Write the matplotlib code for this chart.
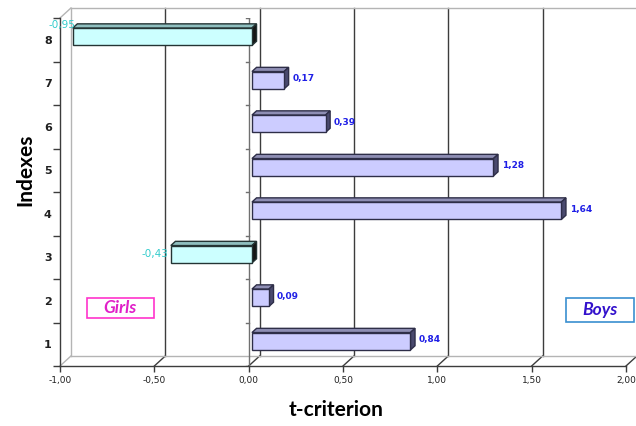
import matplotlib
matplotlib.use('Agg')
import matplotlib.pyplot as plt
from matplotlib.patches import Rectangle, Polygon

# donnees
indexes = [1, 2, 3, 4, 5, 6, 7, 8]
t_values = [0.84, 0.09, -0.43, 1.64, 1.28, 0.39, 0.17, -0.95]
x_ticks = [-1.0, -0.5, 0.0, 0.5, 1.0, 1.5, 2.0]

W, H = 636, 426
fig = plt.figure(figsize=(W / 100, H / 100), dpi=100)
ax = fig.add_axes([60 / W, (H - 366) / H, 566 / W, 348 / H])
ax.set_xlim(-1, 2)
ax.set_ylim(0.5, 8.5)

# profondeur du pseudo-3D (en unites de donnees)
DX, DY = 0.058, 0.23
d0, d1 = 0.3, 0.72   # avant / arriere des barres
bh = 0.4

grid_c = '#3c3c3c'
light_c = '#b4b4b4'

# mur du fond
for x in x_ticks[1:]:
    ax.plot([x + DX, x + DX], [0.5 + DY, 8.5 + DY], color=grid_c, lw=1, clip_on=False, zorder=1)
    ax.plot([x, x + DX], [0.5, 0.5 + DY], color=grid_c, lw=1, clip_on=False, zorder=1)
ax.plot([-1 + DX, 2 + DX], [8.5 + DY, 8.5 + DY], color=light_c, lw=1, clip_on=False, zorder=1)
ax.plot([-1 + DX, 2 + DX], [0.5 + DY, 0.5 + DY], color=light_c, lw=1, clip_on=False, zorder=1)
ax.plot([-1 + DX, -1 + DX], [0.5 + DY, 8.5 + DY], color=light_c, lw=1, clip_on=False, zorder=1)
ax.plot([-1, -1 + DX], [8.5, 8.5 + DY], color=light_c, lw=1, clip_on=False, zorder=1)
ax.plot([-1, -1 + DX], [0.5, 0.5 + DY], color=light_c, lw=1, clip_on=False, zorder=1)

# axe vertical a zero
ax.plot([0, 0], [0.5, 8.5], color='#707070', lw=1, zorder=2)
for b in range(len(indexes) + 1):
    ax.plot([-0.016, 0], [b + 0.5, b + 0.5], color='#707070', lw=1, zorder=2)

# barres
for c, v in zip(indexes, t_values):
    if v >= 0:
        front_c, top_c, side_c, edge_c = '#ccccff', '#8e8eb4', '#4a4a6e', '#2e2e48'
    else:
        front_c, top_c, side_c, edge_c = '#ccffff', '#8fbfbf', '#151515', '#243434'
    x0, x1 = min(0, v) + d0 * DX, max(0, v) + d0 * DX
    yb, yt = c - bh / 2 + d0 * DY, c + bh / 2 + d0 * DY
    ddx, ddy = (d1 - d0) * DX, (d1 - d0) * DY
    ax.add_patch(Polygon([(x0, yt), (x1, yt), (x1 + ddx, yt + ddy), (x0 + ddx, yt + ddy)],
                         facecolor=top_c, edgecolor=edge_c, lw=1, zorder=3, clip_on=False))
    ax.add_patch(Polygon([(x1, yb), (x1, yt), (x1 + ddx, yt + ddy), (x1 + ddx, yb + ddy)],
                         facecolor=side_c, edgecolor=edge_c, lw=1, zorder=3, clip_on=False))
    ax.add_patch(Rectangle((x0, yb), x1 - x0, yt - yb,
                           facecolor=front_c, edgecolor=edge_c, lw=1, zorder=4, clip_on=False))
    lab = f'{v:.2f}'.replace('.', ',')
    if v >= 0:
        ax.text(v + d1 * DX + 0.019, c + d0 * DY + 0.03, lab, color='#1f1fe6', fontsize=6.5,
                fontweight='bold', ha='left', va='center', zorder=5)
    elif v < -0.8:
        # pas de place a gauche : etiquette remontee
        ax.text(v + 0.03, c + 0.35, lab, color='#33cccc', fontsize=7.5,
                ha='right', va='center', zorder=5, clip_on=False)
    else:
        ax.text(v + d0 * DX - 0.011, c + d0 * DY, lab, color='#33cccc', fontsize=7.5,
                ha='right', va='center', zorder=5)

# axes
for s in ['top', 'right']:
    ax.spines[s].set_visible(False)
for s in ['left', 'bottom']:
    ax.spines[s].set_color(grid_c)
    ax.spines[s].set_linewidth(1)
ax.set_xticks(x_ticks)
ax.set_xticklabels([f'{x:.2f}'.replace('.', ',') for x in x_ticks])
ax.tick_params(axis='x', length=4, width=1, color=grid_c, pad=3, labelsize=6.5, labelcolor='#202020')
ax.set_yticks(indexes)
ax.set_yticklabels([str(i) for i in indexes], fontweight='bold')
ax.set_yticks([b + 0.5 for b in range(len(indexes) + 1)], minor=True)
ax.tick_params(axis='y', which='major', length=0, pad=6, labelsize=8, labelcolor='#202020')
ax.tick_params(axis='y', which='minor', length=5, width=1, color=grid_c)

fig.text(25 / W, 1 - 170 / H, 'Indexes', rotation=90, ha='center', va='center',
         fontsize=15, fontweight='bold', family='Lato')
fig.text(336 / W, 1 - 410 / H, 't-criterion', ha='center', va='center',
         fontsize=15, fontweight='bold', family='Lato')

# encadres
def box(x0, y0, x1, y1, ec):
    fig.add_artist(Rectangle((x0 / W, 1 - y1 / H), (x1 - x0) / W, (y1 - y0) / H,
                             transform=fig.transFigure, fill=False, edgecolor=ec, lw=1.2))

box(87, 298, 154, 318, '#ff33cc')
fig.text(120 / W, 1 - 308 / H, 'Girls', ha='center', va='center', color='#e020c8',
         fontsize=12.5, fontweight='bold', style='italic', family='Lato')
box(566, 298, 634, 322, '#3a8fd0')
fig.text(600 / W, 1 - 310 / H, 'Boys', ha='center', va='center', color='#3311cc',
         fontsize=12.5, fontweight='bold', style='italic', family='Lato')

fig.savefig('out.png', dpi=100)
